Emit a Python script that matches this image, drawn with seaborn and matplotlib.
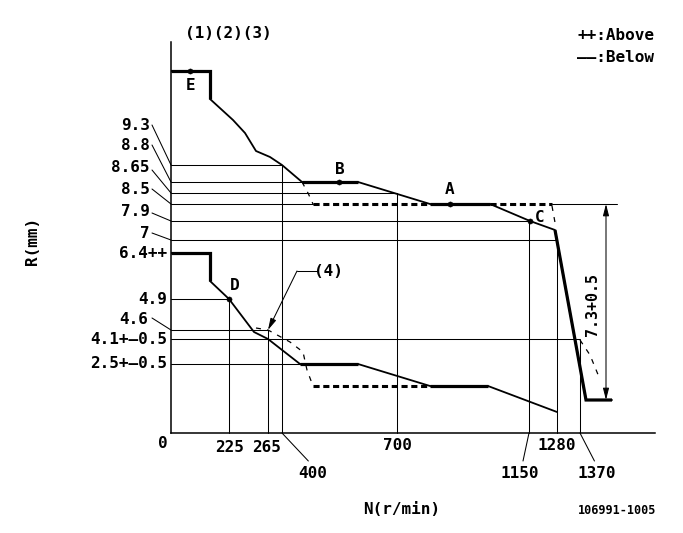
import numpy as np
import pandas as pd
import matplotlib
matplotlib.use("Agg")
import matplotlib.pyplot as plt
import seaborn as sns

# ---------------- data (schematic units: origin at the chart origin) -------------
# full-load (upper) curve
upper_n = [0, 39, 39, 62, 74, 85, 99, 111, 131, 187, 259, 319, 359, 384, 415, 441]
upper_r = [362, 362, 334, 313, 300, 282, 276, 268, 251, 251, 229, 229, 212, 203, 33, 33]
# idle (lower) curve
lower_n = [0, 39, 39, 58, 83, 97, 129, 187, 259, 317, 386]
lower_r = [180, 180, 152, 134, 101, 94, 69, 69, 47, 47, 21]

# thick segments of the curves (index ranges)
upper_thick = [(0, 2), (8, 9), (10, 11), (13, 15)]
lower_thick = [(0, 2), (6, 7), (8, 9)]

# dashed (tolerance) branches
dash_b_n, dash_b_r = [131, 137, 142], [251, 240, 229]
dash_a_n, dash_a_r = [142, 259], [229, 229]
dash_c_n, dash_c_r = [319, 381], [229, 229]
dash_c2_n, dash_c2_r = [381, 385], [227, 205]
dash_low_n = [85, 97, 119, 132, 136, 142]
dash_low_r = [105, 103, 91, 81, 63, 47]
dash_low2_n, dash_low2_r = [142, 259], [47, 47]
dash_hi_n, dash_hi_r = [409, 419, 428], [93, 78, 56]

# rack positions R (mm) and their horizontal guide lines
r_labels = ["9.3", "8.8", "8.65", "8.5", "7.9", "7", "6.4++", "4.9", "4.6",
            "4.1+\u20140.5", "2.5+\u20140.5"]
r_level = [268, 251, 240, 229, 212, 193, 180, 134, 103, 94, 69]
r_line_end = [111, 131, 226, 142, 358, 386, 0, 58, 97, 409, 129]
r_label_y = [308, 288, 266, 244, 221, 200, 179, 134, 113, 94, 70]
r_label_x = [-21, -21, -21, -21, -21, -21, -4, -4, -23, -4, -4]
r_leader = [True, True, True, True, True, True, False, False, True, False, False]
r_leader_y = [308, 288, 263, 244, 220, 200, 0, 0, 115, 0, 0]

# speeds N (r/min) and their vertical guide lines
n_labels = ["225", "265", "400", "700", "1150", "1280", "1370"]
n_pos = [58, 97, 111, 226, 358, 386, 409]
n_line_top = [134, 103, 268, 240, 212, 193, 93]
n_label_x = [59, 96, 142, 226, 349, 386, 426]
n_label_y = [-15, -15, -40, -13, -40, -12, -40]
n_leader = [False, False, True, False, True, False, True]

# measuring points
pt_names = ["E", "B", "A", "C", "D"]
pt_n = [19, 168, 279, 359, 58]
pt_r = [362, 251, 229, 212, 134]
pt_lab_n = [20, 169, 279, 369, 64]
pt_lab_r = [347, 263, 243, 216, 147]

# ---------------- figure ----------------
sns.set_style("white")
plt.rcParams["font.family"] = ["DejaVu Sans Mono", "DejaVu Sans"]
plt.rcParams["font.weight"] = "bold"
plt.rcParams["text.color"] = "black"

W, H = 683, 533
fig = plt.figure(figsize=(W / 100, H / 100), dpi=100)
fig.patch.set_facecolor("white")
ax = fig.add_axes([171 / W, 100 / H, 484 / W, 391 / H])
ax.set_xlim(0, 484)
ax.set_ylim(0, 391)
ax.set_facecolor("white")
for s in ["top", "right"]:
    ax.spines[s].set_visible(False)
for s in ["left", "bottom"]:
    ax.spines[s].set_color("black")
    ax.spines[s].set_linewidth(1.1)
ax.set_xticks([])
ax.set_yticks([])

K = "black"
FS = 11.5
THIN = 0.75
TXT = dict(color=K, fontweight="bold", clip_on=False)

# guide lines
for lvl, end in zip(r_level, r_line_end):
    if end > 0:
        ax.plot([0, end], [lvl, lvl], color=K, lw=THIN, clip_on=False)
ax.plot([381, 446], [229, 229], color=K, lw=THIN, clip_on=False)
for x, top in zip(n_pos, n_line_top):
    ax.plot([x, x], [0, top], color=K, lw=THIN, clip_on=False)

# curves
df_up = pd.DataFrame({"N": upper_n, "R": upper_r})
df_lo = pd.DataFrame({"N": lower_n, "R": lower_r})
sns.lineplot(data=df_up, x="N", y="R", sort=False, estimator=None, color=K,
             linewidth=1.3, ax=ax, legend=False)
sns.lineplot(data=df_lo, x="N", y="R", sort=False, estimator=None, color=K,
             linewidth=1.3, ax=ax, legend=False)
for a, b in upper_thick:
    ax.plot(upper_n[a:b + 1], upper_r[a:b + 1], color=K, lw=2.3,
            solid_joinstyle="miter", solid_capstyle="butt")
for a, b in lower_thick:
    ax.plot(lower_n[a:b + 1], lower_r[a:b + 1], color=K, lw=2.3,
            solid_joinstyle="miter", solid_capstyle="butt")

# dashed branches
thick_dash = (0, (2.0, 1.2))
thin_dash = (0, (4, 5))
for xs, ys in [(dash_a_n, dash_a_r), (dash_c_n, dash_c_r), (dash_low2_n, dash_low2_r)]:
    ax.plot(xs, ys, color=K, lw=2.2, linestyle=thick_dash, dash_capstyle="butt")
for xs, ys in [(dash_b_n, dash_b_r), (dash_c2_n, dash_c2_r), (dash_low_n, dash_low_r),
               (dash_hi_n, dash_hi_r)]:
    ax.plot(xs, ys, color=K, lw=0.9, linestyle=thin_dash)

# points
sns.scatterplot(x=pt_n, y=pt_r, color=K, s=14, ax=ax, legend=False, zorder=5,
                edgecolor=K)
for name, x, y in zip(pt_names, pt_lab_n, pt_lab_r):
    ax.text(x, y, name, fontsize=FS, ha="center", va="center", **TXT)

# R labels
for lab, x, y, lead, ly, lvl in zip(r_labels, r_label_x, r_label_y, r_leader,
                                    r_leader_y, r_level):
    ax.text(x, y, lab, fontsize=FS, ha="right", va="center", **TXT)
    if lead:
        ax.plot([-19, 0], [ly, lvl], color=K, lw=THIN, clip_on=False)
ax.text(-8, -11, "0", fontsize=FS, ha="center", va="center", **TXT)

# N labels
for lab, x, lx, ly, lead in zip(n_labels, n_pos, n_label_x, n_label_y, n_leader):
    ax.text(lx, ly, lab, fontsize=FS, ha="center", va="center", **TXT)
    if lead:
        ax.plot([x, x + (lx - x) * 0.85 if lx > x else x - 6],
                [0, -28], color=K, lw=THIN, clip_on=False)

# (4) callout
ax.plot([146, 126], [162, 162], color=K, lw=THIN, clip_on=False)
ax.annotate("", xy=(97, 103), xytext=(126, 162),
            arrowprops=dict(arrowstyle="-|>,head_length=0.7,head_width=0.18",
                            color=K, lw=THIN, shrinkA=0, shrinkB=0))
ax.text(157, 162, "(4)", fontsize=FS, ha="center", va="center", **TXT)

# dimension 7.3+0.5
ax.annotate("", xy=(435, 229), xytext=(435, 33),
            arrowprops=dict(arrowstyle="<|-|>,head_length=0.7,head_width=0.18",
                            color=K, lw=THIN, shrinkA=0, shrinkB=0))
ax.text(421, 128, "7.3+0.5", fontsize=10.8, rotation=90, ha="center", va="center",
        **TXT)

# titles and notes
ax.text(57, 400, "(1)(2)(3)", fontsize=FS, ha="center", va="center", **TXT)
ax.text(406, 398, "++:Above", fontsize=FS, ha="left", va="center", **TXT)
ax.text(406, 376, "\u2014\u2014:Below", fontsize=FS, ha="left", va="center", **TXT)
ax.text(231, -77, "N(r/min)", fontsize=FS, ha="center", va="center", **TXT)
ax.text(-139, 192, "R(mm)", fontsize=FS, rotation=90, ha="center", va="center",
        **TXT)
ax.text(446, -77, "106991-1005", fontsize=8.5, ha="center", va="center", **TXT)

fig.savefig("out.png", dpi=100, facecolor="white")
